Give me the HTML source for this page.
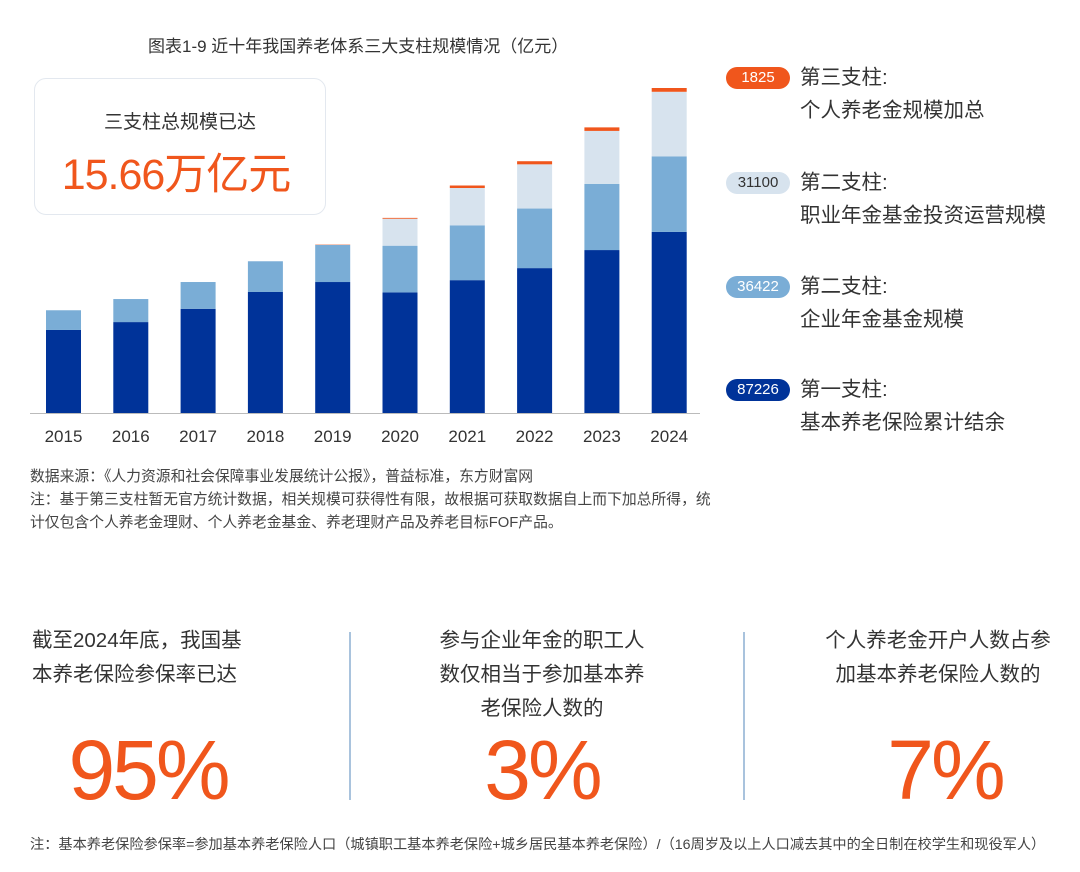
<!DOCTYPE html>
<html><head><meta charset="utf-8"><style>
body{margin:0;width:1080px;height:872px;background:#fff;position:relative;overflow:hidden;font-family:"Liberation Sans","Noto Sans CJK SC",sans-serif;color:#333}
.a{position:absolute;white-space:nowrap}
.pill{position:absolute;width:64px;height:22px;border-radius:11px;font-size:15px;line-height:22px;text-align:center}
.lt{position:absolute;left:800px;font-size:20.5px;line-height:33px;color:#333}
.st{position:absolute;font-size:20.5px;line-height:34px;text-align:center;color:#333}
.big{position:absolute;font-size:84px;color:#f0561c;text-align:center;letter-spacing:-3px}
.div{position:absolute;top:632px;width:2px;height:168px;background:#a9c3dd}
</style></head><body>
<div class="a" style="left:148px;top:32px;font-size:17px;color:#333">图表1-9 近十年我国养老体系三大支柱规模情况（亿元）</div>
<div class="a" style="left:34px;top:78px;width:292px;height:137px;border:1.5px solid #e3e8ef;border-radius:12px;box-sizing:border-box"></div>
<div class="a" style="left:34px;top:107px;width:292px;text-align:center;font-size:19px">三支柱总规模已达</div>
<div class="a" style="left:30px;top:140px;width:292px;text-align:center;font-size:43px;color:#f0561c;letter-spacing:-1px">15.66万亿元</div>
<svg id="chart" class="a" style="left:0;top:0" width="720" height="460"></svg>

<div class="pill" style="left:726px;top:67px;background:#f0561c;color:#fff">1825</div>
<div class="lt" style="top:61px">第三支柱:<br>个人养老金规模加总</div>
<div class="pill" style="left:726px;top:172px;background:#d7e3ee;color:#333">31100</div>
<div class="lt" style="top:166px">第二支柱:<br>职业年金基金投资运营规模</div>
<div class="pill" style="left:726px;top:276px;background:#7aadd6;color:#fff">36422</div>
<div class="lt" style="top:270px">第二支柱:<br>企业年金基金规模</div>
<div class="pill" style="left:726px;top:379px;background:#003399;color:#fff">87226</div>
<div class="lt" style="top:373px">第一支柱:<br>基本养老保险累计结余</div>

<div class="a" style="left:30px;top:466px;font-size:14.8px;line-height:23px;color:#444">数据来源：《人力资源和社会保障事业发展统计公报》，普益标准，东方财富网<br>注：基于第三支柱暂无官方统计数据，相关规模可获得性有限，故根据可获取数据自上而下加总所得，统<br>计仅包含个人养老金理财、个人养老金基金、养老理财产品及养老目标FOF产品。</div>

<div class="st" style="left:20px;top:624px;width:240px;text-align:left;padding-left:12px">截至2024年底，我国基<br>本养老保险参保率已达</div>
<div class="big" style="left:38px;top:722px;width:220px">95%</div>
<div class="div" style="left:349px"></div>
<div class="st" style="left:397px;top:624px;width:290px">参与企业年金的职工人<br>数仅相当于参加基本养<br>老保险人数的</div>
<div class="big" style="left:427px;top:722px;width:230px">3%</div>
<div class="div" style="left:743px"></div>
<div class="st" style="left:803px;top:624px;width:270px">个人养老金开户人数占参<br>加基本养老保险人数的</div>
<div class="big" style="left:835px;top:722px;width:220px">7%</div>
<div class="a" style="left:30px;top:834px;font-size:14.2px;color:#444">注：基本养老保险参保率=参加基本养老保险人口（城镇职工基本养老保险+城乡居民基本养老保险）/（16周岁及以上人口减去其中的全日制在校学生和现役军人）</div>

<script>
const years=["2015","2016","2017","2018","2019","2020","2021","2022","2023","2024"];
const pillar1=[40000,43800,50200,58300,63100,58100,64000,69800,78500,87226];
const enterprise=[9500,11100,12900,14800,17900,22500,26400,28700,31900,36422];
const occupational=[0,0,0,0,0,13000,18000,21300,25500,31100];
const pillar3=[0,0,0,0,150,400,1200,1500,1700,1825];
const svg=document.getElementById('chart');
const NS='http://www.w3.org/2000/svg';
const base=413, k=325/156573;
const x=i=>63.5+i*67.3;
const y=v=>base-v*k;
const series=[[pillar1,'#003399','bar-pillar1'],[enterprise,'#7aadd6','bar-enterprise'],[occupational,'#d7e3ee','bar-occupational'],[pillar3,'#f0561c','bar-pillar3']];
years.forEach((yr,i)=>{
  let acc=0;
  series.forEach(([arr,col,nm])=>{
    const v=arr[i]; if(v<=0) return;
    const r=document.createElementNS(NS,'rect');
    r.setAttribute('x',x(i)-17.5);r.setAttribute('width',35);
    r.setAttribute('y',y(acc+v));r.setAttribute('height',y(acc)-y(acc+v));
    r.setAttribute('fill',col);
    
    
    svg.appendChild(r);acc+=v;
  });
  const t=document.createElementNS(NS,'text');
  t.setAttribute('x',x(i));t.setAttribute('y',442);t.setAttribute('text-anchor','middle');
  t.setAttribute('font-size','17');t.setAttribute('fill','#333');
  t.setAttribute('font-family','"Liberation Sans",sans-serif');
  t.textContent=yr;
  
  
  svg.appendChild(t);
});
const ax=document.createElementNS(NS,'line');
ax.setAttribute('x1',30);ax.setAttribute('x2',700);ax.setAttribute('y1',base+0.5);ax.setAttribute('y2',base+0.5);
ax.setAttribute('stroke','#bbb');


svg.appendChild(ax);
</script>
</body></html>
